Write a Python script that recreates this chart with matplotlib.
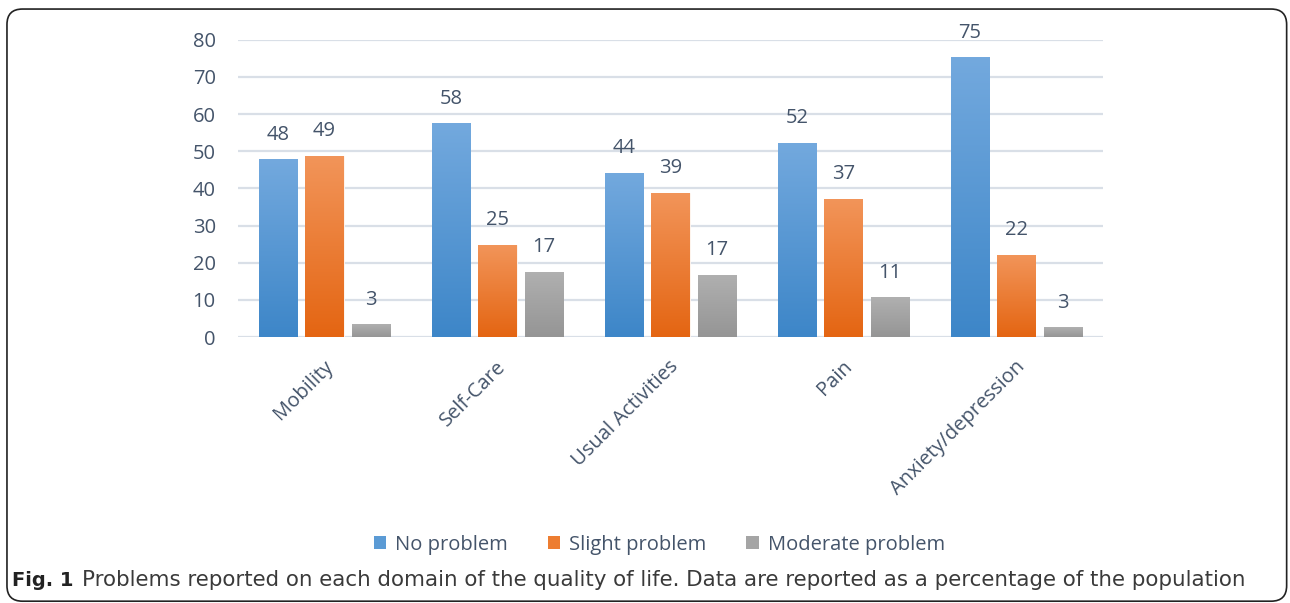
#!/usr/bin/env python3
"""
Grouped bar chart: problems reported on each domain of the quality of life
(percentage of the population), with Office-style gradient bars.
"""

import numpy as np
import matplotlib
matplotlib.use("Agg")
import matplotlib.pyplot as plt
from matplotlib.colors import LinearSegmentedColormap
from matplotlib.patches import FancyBboxPatch, Patch

# === DATA ===
DOMAINS = ["Mobility", "Self-Care", "Usual Activities", "Pain", "Anxiety/depression"]
SERIES = ["No problem", "Slight problem", "Moderate problem"]

NO_PROBLEM = [47.8, 57.5, 44.2, 52.3, 75.3]
SLIGHT_PROBLEM = [48.8, 24.8, 38.9, 37.2, 22.1]
MODERATE_PROBLEM = [3.4, 17.6, 16.8, 10.7, 2.6]

# value labels as printed on the chart
NO_LABELS = ["48", "58", "44", "52", "75"]
SLIGHT_LABELS = ["49", "25", "39", "37", "22"]
MODERATE_LABELS = ["3", "17", "17", "11", "3"]

Y_TICKS = [0, 10, 20, 30, 40, 50, 60, 70, 80]

# === STYLE ===
TEXT_COL = "#44546a"
GRID_COL = "#d9dfe7"
# (top colour, bottom colour) for each series gradient
GRADIENTS = [("#73a9de", "#3d86c8"), ("#f2955a", "#e46512"), ("#b0b0b0", "#959595")]
SOLID = ["#5b9bd5", "#ed7d31", "#a5a5a5"]

FONT = "Open Sans"


def gradient_fill(ax, bar, top, bottom):
    """Fill a bar patch with a vertical gradient (top -> bottom)."""
    cmap = LinearSegmentedColormap.from_list("g", [bottom, top])
    x0, w, h = bar.get_x(), bar.get_width(), bar.get_height()
    grad = np.linspace(0, 1, 256).reshape(-1, 1)
    im = ax.imshow(grad, cmap=cmap, origin="lower", aspect="auto",
                   extent=[x0, x0 + w, 0, h], zorder=bar.get_zorder() + 0.1)
    im.set_clip_path(bar)


def main():
    plt.rcParams["font.family"] = [FONT, "DejaVu Sans"]

    fig = plt.figure(figsize=(12.9, 6.03), dpi=100)
    ax = fig.add_axes([0.1845, 0.441, 0.6705, 0.493])

    x = np.arange(len(DOMAINS))
    width = 0.22
    step = 0.27

    all_vals = [NO_PROBLEM, SLIGHT_PROBLEM, MODERATE_PROBLEM]
    all_labels = [NO_LABELS, SLIGHT_LABELS, MODERATE_LABELS]

    for i, (vals, labs) in enumerate(zip(all_vals, all_labels)):
        bars = ax.bar(x + (i - 1) * step, vals, width, color=SOLID[i],
                      edgecolor="white", linewidth=0.6, zorder=3)
        for b, lab in zip(bars, labs):
            gradient_fill(ax, b, *GRADIENTS[i])
            ax.annotate(lab, (b.get_x() + b.get_width() / 2, b.get_height()),
                        xytext=(0, 10.5), textcoords="offset points",
                        ha="center", va="bottom", fontsize=14.5, color=TEXT_COL)

    ax.set_xlim(-0.5, len(DOMAINS) - 0.5)
    ax.set_ylim(0, 80)
    ax.set_yticks(Y_TICKS)
    ax.set_yticklabels([str(t) for t in Y_TICKS], fontsize=14.5, color=TEXT_COL)
    ax.tick_params(axis="y", length=0, pad=16)
    ax.yaxis.grid(True, color=GRID_COL, linewidth=1.6, zorder=0)
    ax.set_axisbelow(True)

    ax.set_xticks(x - 0.01)
    ax.set_xticklabels(DOMAINS, rotation=45, ha="right", rotation_mode="anchor",
                       fontsize=14.5, color=TEXT_COL)
    ax.tick_params(axis="x", length=0, pad=14)

    for s in ax.spines.values():
        s.set_visible(False)
    ax.axhline(0, color=GRID_COL, linewidth=1.8, zorder=1)

    # legend
    handles = [Patch(facecolor=c) for c in SOLID]
    leg = fig.legend(handles, SERIES, loc="center", bbox_to_anchor=(0.511, 0.097),
                     ncol=3, frameon=False, fontsize=14.5, handlelength=0.6,
                     handleheight=0.6, handletextpad=0.45, columnspacing=2.0)
    for t in leg.get_texts():
        t.set_color(TEXT_COL)

    # caption
    fig.text(0.0093, 0.028, "Fig. 1", fontsize=14, fontweight="bold",
             family="DejaVu Sans", color="#222222", va="baseline")
    fig.text(0.0636, 0.028,
             "Problems reported on each domain of the quality of life. "
             "Data are reported as a percentage of the population",
             fontsize=15.4, family="DejaVu Sans", color="#3a3a3a", va="baseline")

    # rounded frame around the figure
    frame = FancyBboxPatch((0.0054, 0.003), 0.992, 0.982,
                           boxstyle="round,pad=0,rounding_size=0.012",
                           transform=fig.transFigure, fill=False,
                           edgecolor="#222222", linewidth=1.2,
                           mutation_aspect=1290 / 603)
    fig.patches.append(frame)

    fig.savefig("out.png", dpi=100)


if __name__ == "__main__":
    main()
